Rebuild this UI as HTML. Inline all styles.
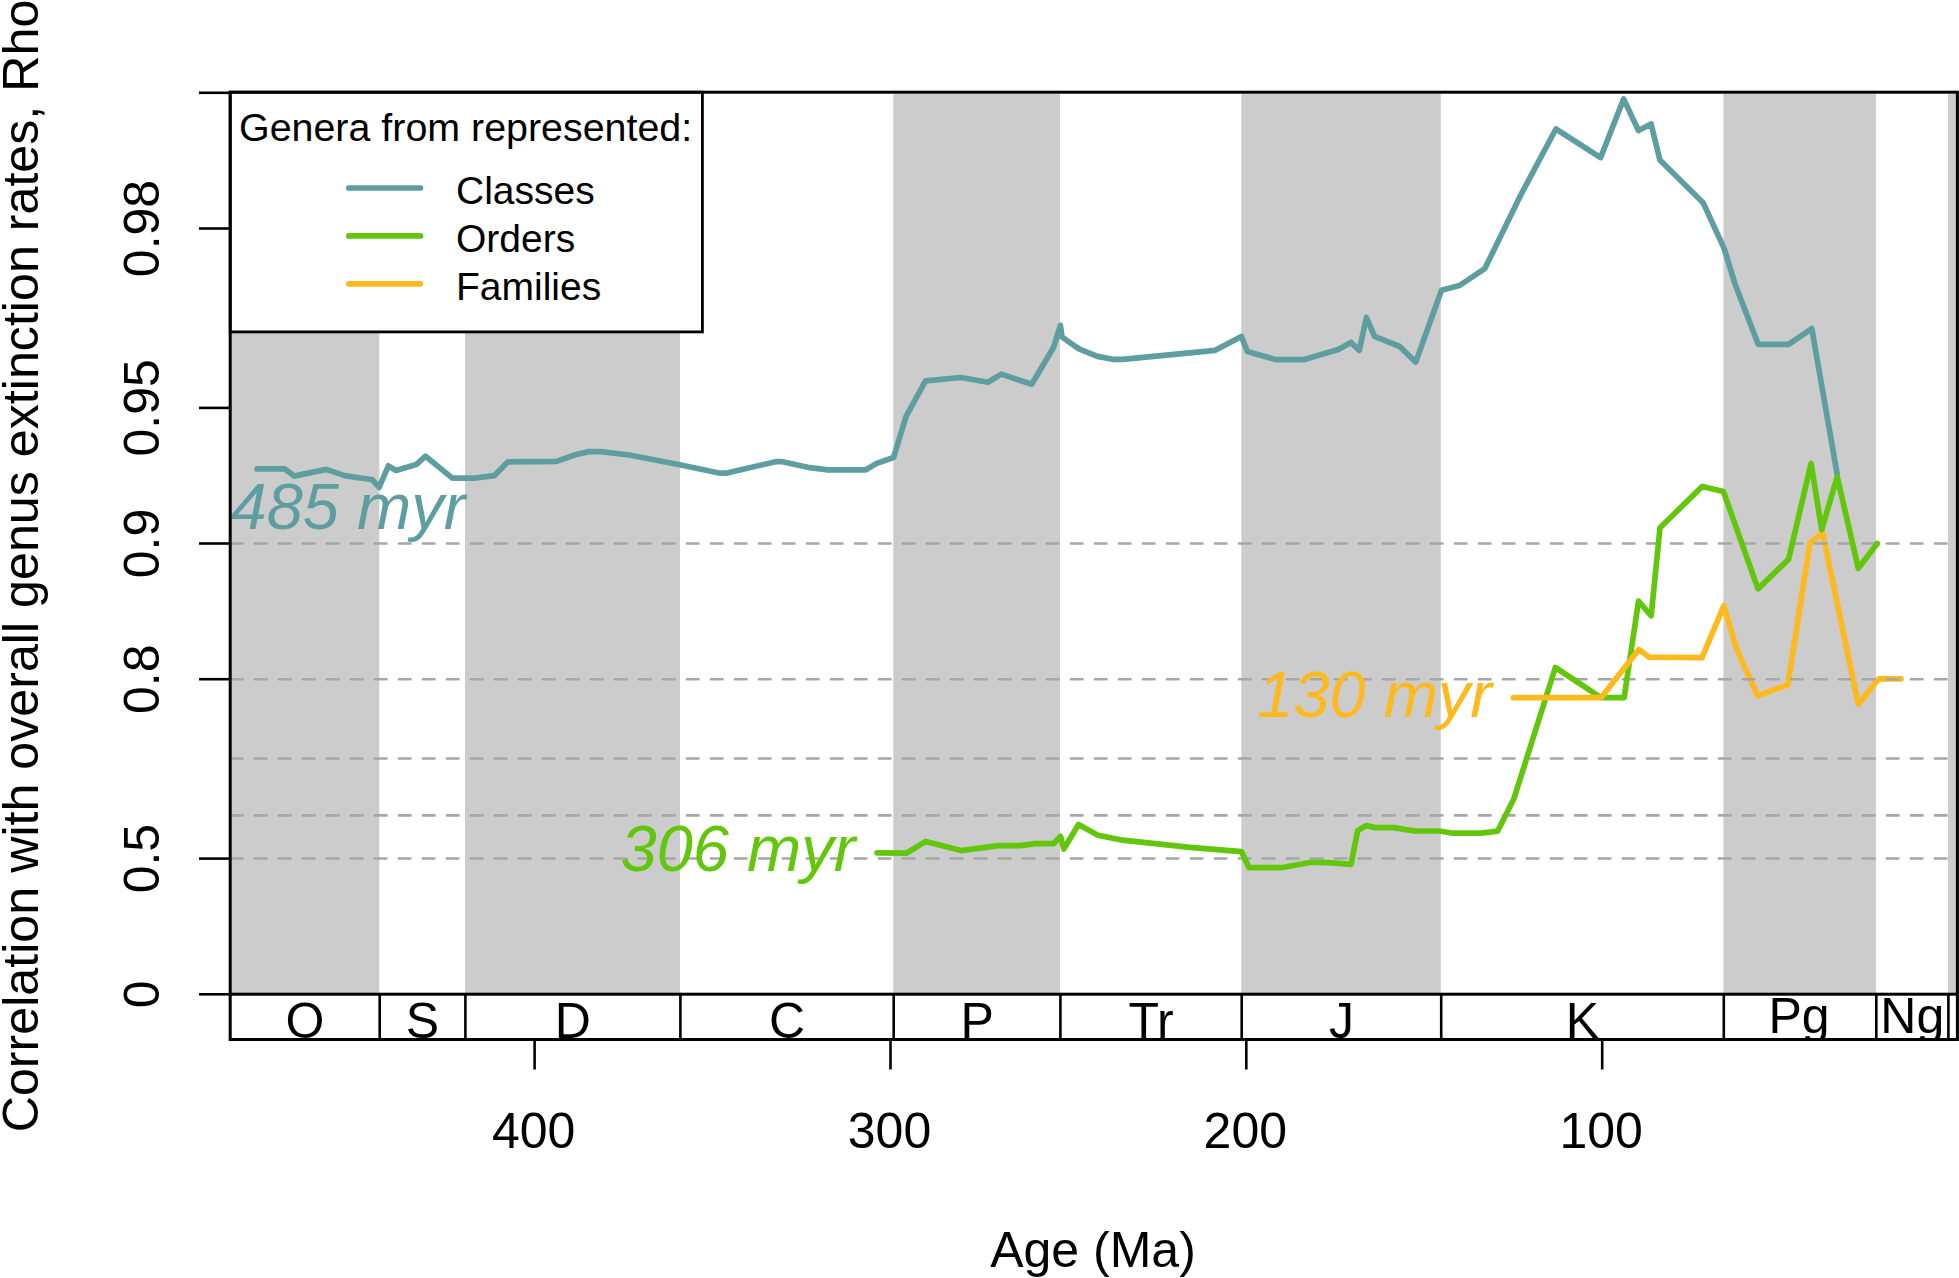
<!DOCTYPE html><html><head><meta charset="utf-8"><title>Correlation with overall genus extinction rates</title>
<style>html,body{margin:0;padding:0;background:#fff}svg{display:block}text{font-family:"Liberation Sans",Arial,sans-serif;fill:#000}</style></head><body>
<svg width="1959" height="1278" viewBox="0 0 1959 1278">
<rect width="1959" height="1278" fill="#fff"/>
<defs><clipPath id="ts"><rect x="230.2" y="994.2" width="1727.2" height="45.399999999999864"/></clipPath></defs>
<rect x="230.2" y="93.7" width="149.1" height="900.5" fill="#CCCCCC"/>
<rect x="465.0" y="93.7" width="215.0" height="900.5" fill="#CCCCCC"/>
<rect x="893.3" y="93.7" width="166.7" height="900.5" fill="#CCCCCC"/>
<rect x="1241.3" y="93.7" width="199.5" height="900.5" fill="#CCCCCC"/>
<rect x="1723.4" y="93.7" width="152.5" height="900.5" fill="#CCCCCC"/>
<rect x="1948.0" y="93.7" width="9.0" height="900.5" fill="#CCCCCC"/>
<polyline fill="none" stroke="#5F9EA0" stroke-width="5.7" stroke-linejoin="round" stroke-linecap="round" points="257.0,468.9 284.8,468.9 294.1,476.1 326.1,469.4 344.6,475.6 372.4,479.8 379.1,487.4 388.4,465.8 396.0,470.5 416.2,464.6 425.5,456.2 452.4,478.1 474.3,478.1 494.5,475.6 508.0,461.8 556.7,461.4 575.3,454.7 588.7,451.6 600.5,451.6 629.2,455.0 679.7,464.8 720.1,473.2 726.0,473.2 775.7,461.7 782.5,461.7 807.8,467.3 828.0,469.8 865.9,469.8 876.7,463.4 893.6,457.5 906.2,416.2 925.6,380.9 961.0,377.5 987.9,382.2 1001.4,374.1 1031.7,384.2 1053.6,347.2 1060.4,325.3 1062.0,337.0 1078.9,348.9 1097.4,356.4 1112.6,359.3 1122.7,359.3 1215.3,350.3 1241.4,336.4 1247.3,351.5 1275.9,359.6 1304.6,359.6 1338.2,349.5 1350.9,342.4 1359.3,350.3 1366.4,317.5 1374.5,336.4 1399.7,346.5 1415.7,362.1 1441.5,290.2 1459.5,285.5 1484.8,268.6 1520.5,195.5 1555.9,129.0 1600.6,157.6 1623.6,99.0 1638.5,130.6 1651.1,123.9 1659.9,160.1 1703.3,203.1 1722.7,245.2 1724.5,249.7 1735.1,284.2 1758.3,344.4 1788.6,344.4 1811.8,328.6 1837.2,474.6"/>
<polyline fill="none" stroke="#FDB91E" stroke-width="5.7" stroke-linejoin="round" stroke-linecap="round" points="1702.0,657.6 1723.8,605.8 1736.5,648.7 1757.6,695.9 1787.9,684.6 1809.8,543.6 1822.4,532.4 1858.3,704.4 1878.7,678.8 1901.0,678.8"/>
<line x1="230.9" y1="858.5" x2="1949.0" y2="858.5" stroke="#A6A6A6" stroke-width="2.6" stroke-dasharray="11.6 12.4" stroke-linecap="round"/>
<line x1="230.9" y1="815.4" x2="1949.0" y2="815.4" stroke="#A6A6A6" stroke-width="2.6" stroke-dasharray="11.6 12.4" stroke-linecap="round"/>
<line x1="230.9" y1="758.5" x2="1949.0" y2="758.5" stroke="#A6A6A6" stroke-width="2.6" stroke-dasharray="11.6 12.4" stroke-linecap="round"/>
<line x1="230.9" y1="679.3" x2="1949.0" y2="679.3" stroke="#A6A6A6" stroke-width="2.6" stroke-dasharray="11.6 12.4" stroke-linecap="round"/>
<line x1="230.9" y1="543.5" x2="1949.0" y2="543.5" stroke="#A6A6A6" stroke-width="2.6" stroke-dasharray="11.6 12.4" stroke-linecap="round"/>
<polyline fill="none" stroke="#62C70C" stroke-width="5.7" stroke-linejoin="round" stroke-linecap="round" points="877.0,852.8 906.3,853.2 925.7,841.4 961.1,850.6 998.1,845.6 1020.0,845.6 1035.2,843.6 1053.7,843.6 1060.5,836.3 1063.8,849.0 1078.5,824.5 1097.5,835.1 1122.8,840.2 1190.0,847.3 1241.5,851.7 1249.1,867.7 1281.1,867.7 1311.4,862.3 1328.2,862.7 1351.0,864.3 1357.7,830.6 1366.2,825.6 1375.4,827.6 1394.0,827.6 1414.2,831.0 1439.4,831.0 1452.9,833.2 1481.6,833.2 1497.6,831.2 1514.0,798.4 1555.4,667.5 1601.0,697.7 1624.2,697.7 1638.5,601.1 1651.2,615.8 1660.0,527.7 1702.3,486.4 1723.4,491.5 1758.0,588.9 1788.6,559.2 1811.1,463.4 1821.7,529.6 1837.2,476.8 1858.3,568.3 1877.3,543.4"/>
<polyline fill="none" stroke="#FDB91E" stroke-width="5.7" stroke-linejoin="round" stroke-linecap="round" points="1513.5,697.7 1601.0,697.7 1638.9,649.5 1649.2,657.2 1702.0,657.6"/>
<text x="230.5" y="528.5" font-size="65" font-style="italic" style="fill:#5F9EA0">485 myr</text>
<text x="855.3" y="871" font-size="65" font-style="italic" text-anchor="end" style="fill:#62C70C">306 myr</text>
<text x="1492" y="717" font-size="65" font-style="italic" text-anchor="end" style="fill:#FDB91E">130 myr</text>
<rect x="230.2" y="92.2" width="472.2" height="239.7" fill="#fff" stroke="#000" stroke-width="2.8"/>
<text x="239" y="140.7" font-size="39.4">Genera from represented:</text>
<line x1="348.8" y1="188.0" x2="420.5" y2="188.0" stroke="#5F9EA0" stroke-width="5.7" stroke-linecap="round"/>
<text x="456" y="203.8" font-size="39">Classes</text>
<line x1="348.8" y1="235.9" x2="420.5" y2="235.9" stroke="#62C70C" stroke-width="5.7" stroke-linecap="round"/>
<text x="456" y="251.7" font-size="39">Orders</text>
<line x1="348.8" y1="283.8" x2="420.5" y2="283.8" stroke="#FDB91E" stroke-width="5.7" stroke-linecap="round"/>
<text x="456" y="299.6" font-size="39">Families</text>
<g stroke="#000" stroke-width="3" fill="none" stroke-linecap="butt">
<rect x="230.2" y="92.2" width="1727.2" height="902.0"/>
<path d="M230.2 994.2 V1039.6 H1957.4 V994.2"/>
</g>
<g stroke="#000" stroke-width="2.6">
<line x1="379.7" y1="994.2" x2="379.7" y2="1039.6"/>
<line x1="465.4" y1="994.2" x2="465.4" y2="1039.6"/>
<line x1="680.4" y1="994.2" x2="680.4" y2="1039.6"/>
<line x1="893.7" y1="994.2" x2="893.7" y2="1039.6"/>
<line x1="1060.4" y1="994.2" x2="1060.4" y2="1039.6"/>
<line x1="1241.7" y1="994.2" x2="1241.7" y2="1039.6"/>
<line x1="1441.2" y1="994.2" x2="1441.2" y2="1039.6"/>
<line x1="1723.8" y1="994.2" x2="1723.8" y2="1039.6"/>
<line x1="1876.3" y1="994.2" x2="1876.3" y2="1039.6"/>
<line x1="1948.4" y1="994.2" x2="1948.4" y2="1039.6"/>
<line x1="199" y1="994.3" x2="230.2" y2="994.3"/>
<line x1="199" y1="858.6" x2="230.2" y2="858.6"/>
<line x1="199" y1="679.2" x2="230.2" y2="679.2"/>
<line x1="199" y1="543.5" x2="230.2" y2="543.5"/>
<line x1="199" y1="407.9" x2="230.2" y2="407.9"/>
<line x1="199" y1="228.5" x2="230.2" y2="228.5"/>
<line x1="199" y1="92.8" x2="230.2" y2="92.8"/>
<line x1="534.6" y1="1039.6" x2="534.6" y2="1069.5"/>
<line x1="890.5" y1="1039.6" x2="890.5" y2="1069.5"/>
<line x1="1246.3" y1="1039.6" x2="1246.3" y2="1069.5"/>
<line x1="1602.2" y1="1039.6" x2="1602.2" y2="1069.5"/>
</g>
<g clip-path="url(#ts)" font-size="50" text-anchor="middle">
<text x="304.9" y="1037.6">O</text>
<text x="422.5" y="1037.6">S</text>
<text x="572.9" y="1037.6">D</text>
<text x="787.0" y="1037.6">C</text>
<text x="977.1" y="1037.6">P</text>
<text x="1151.1" y="1037.6">Tr</text>
<text x="1341.5" y="1037.6">J</text>
<text x="1582.5" y="1037.6">K</text>
<text x="1799.0" y="1032.5">Pg</text>
<text x="1912.3" y="1032.5">Ng</text>
</g>
<g font-size="50" text-anchor="middle">
<text x="533.6" y="1148">400</text>
<text x="889.5" y="1148">300</text>
<text x="1245.3" y="1148">200</text>
<text x="1601.2" y="1148">100</text>
<text x="1093" y="1267">Age (Ma)</text>
</g>
<g font-size="50" text-anchor="middle">
<text transform="translate(158.5 994.3) rotate(-90)">0</text>
<text transform="translate(158.5 858.6) rotate(-90)">0.5</text>
<text transform="translate(158.5 679.2) rotate(-90)">0.8</text>
<text transform="translate(158.5 543.5) rotate(-90)">0.9</text>
<text transform="translate(158.5 407.9) rotate(-90)">0.95</text>
<text transform="translate(158.5 228.5) rotate(-90)">0.98</text>
<text transform="translate(37.8 566) rotate(-90)" font-size="50.2">Correlation with overall genus extinction rates, Rho</text>
</g>
</svg></body></html>
